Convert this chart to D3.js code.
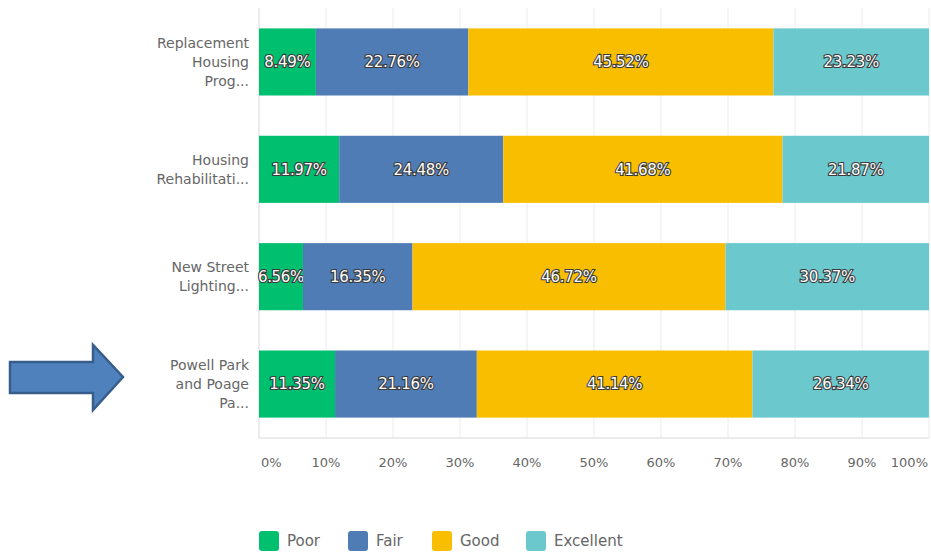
<!DOCTYPE html>
<html>
<head>
<meta charset="utf-8">
<script src="https://cdn.jsdelivr.net/npm/d3@7"></script>
<style>
  body { margin: 0; background: #fff; }
  svg text { font-family: "DejaVu Sans", "Noto Sans", sans-serif; }
</style>
</head>
<body>
<svg id="chart" width="931" height="552"></svg>
<script>
// data
const categories = [
  ["Replacement", "Housing", "Prog..."],
  ["Housing", "Rehabilitati..."],
  ["New Street", "Lighting..."],
  ["Powell Park", "and Poage", "Pa..."]
]
const series = ["Poor", "Fair", "Good", "Excellent"]
const poor = [8.49, 11.97, 6.56, 11.35]
const fair = [22.76, 24.48, 16.35, 21.16]
const good = [45.52, 41.68, 46.72, 41.14]
const excellent = [23.23, 21.87, 30.37, 26.34]
const ticks = [0, 10, 20, 30, 40, 50, 60, 70, 80, 90, 100]
const colors = ["#00bf6f", "#507cb6", "#f9be00", "#6bc8cd"]

const svg = d3.select("#chart")
const plotLeft = 259, plotRight = 929, plotTop = 8, plotBottom = 438

const x = d3.scaleLinear().domain([0, 100]).range([plotLeft, plotRight])
const y = d3.scaleBand().domain(d3.range(categories.length)).range([plotTop, plotBottom]).paddingInner(0.375).paddingOuter(0.19)

// stack the four series per row
const rows = categories.map((c, i) => ({ i, Poor: poor[i], Fair: fair[i], Good: good[i], Excellent: excellent[i] }))
const stacked = d3.stack().keys(series)(rows)

// grid
svg.append("g").selectAll("line").data(ticks.slice(1)).join("line")
  .attr("x1", d => x(d)).attr("x2", d => x(d))
  .attr("y1", plotTop).attr("y2", plotBottom)
  .attr("stroke", "#ececec").attr("stroke-width", 1)
svg.append("line").attr("x1", plotLeft).attr("x2", plotLeft).attr("y1", plotTop).attr("y2", plotBottom)
  .attr("stroke", "#d8d8d8")
svg.append("line").attr("x1", plotLeft).attr("x2", plotRight).attr("y1", plotBottom).attr("y2", plotBottom)
  .attr("stroke", "#d8d8d8")

// bars
const layers = svg.append("g").selectAll("g").data(stacked).join("g")
  .attr("fill", (d, k) => colors[k])
layers.selectAll("rect").data(d => d).join("rect")
  .attr("x", d => x(d[0]))
  .attr("width", d => x(d[1]) - x(d[0]))
  .attr("y", d => y(d.data.i))
  .attr("height", y.bandwidth())

// labels in bars
layers.selectAll("text").data(d => d.map(v => ({ v, key: d.key }))).join("text")
  .attr("x", d => (x(d.v[0]) + x(d.v[1])) / 2)
  .attr("y", d => y(d.v.data.i) + y.bandwidth() / 2)
  .attr("dy", "0.35em")
  .attr("text-anchor", "middle")
  .attr("font-size", 15)
  .attr("letter-spacing", "-0.3px")
  .attr("fill", "#fff")
  .attr("stroke", "#3a3a3a")
  .attr("stroke-width", 2.2)
  .attr("paint-order", "stroke")
  .text(d => (d.v[1] - d.v[0]).toFixed(2) + "%")

// category labels
const cat = svg.append("g").selectAll("text").data(categories).join("text")
  .attr("text-anchor", "end")
  .attr("font-size", 14)
  .attr("fill", "#666")
cat.each(function(lines, i) {
  const mid = y(i) + y.bandwidth() / 2
  const lh = 19
  const start = mid - (lines.length - 1) * lh / 2
  d3.select(this).selectAll("tspan").data(lines).join("tspan")
    .attr("x", 249)
    .attr("y", (d, j) => start + j * lh)
    .attr("dy", "0.35em")
    .text(d => d)
})

// x axis labels, end ones pulled inside
svg.append("g").selectAll("text").data(ticks).join("text")
  .attr("x", d => d == 0 ? x(d) + 2 : d == 100 ? x(d) - 1 : x(d))
  .attr("y", 467)
  .attr("text-anchor", d => d == 0 ? "start" : d == 100 ? "end" : "middle")
  .attr("font-size", 13)
  .attr("fill", "#666")
  .text(d => d + "%")

// legend
const legendX = [259, 348, 432, 526]
const leg = svg.append("g").selectAll("g").data(series).join("g")
  .attr("transform", (d, k) => `translate(${legendX[k]},531)`)
leg.append("rect").attr("width", 20).attr("height", 20).attr("rx", 3)
  .attr("fill", (d, k) => colors[k])
leg.append("text").attr("x", 28).attr("y", 10).attr("dy", "0.35em")
  .attr("font-size", 15).attr("fill", "#666").text(d => d)

// arrow pointing at the last row
const arrow = [[10, 362], [93, 362], [93, 345], [123, 377], [93, 410], [93, 393], [10, 393]]
svg.append("path")
  .attr("d", d3.line()(arrow) + "Z")
  .attr("fill", "#4f81bd")
  .attr("stroke", "#385d8a")
  .attr("stroke-width", 2.5)
</script>
</body>
</html>
